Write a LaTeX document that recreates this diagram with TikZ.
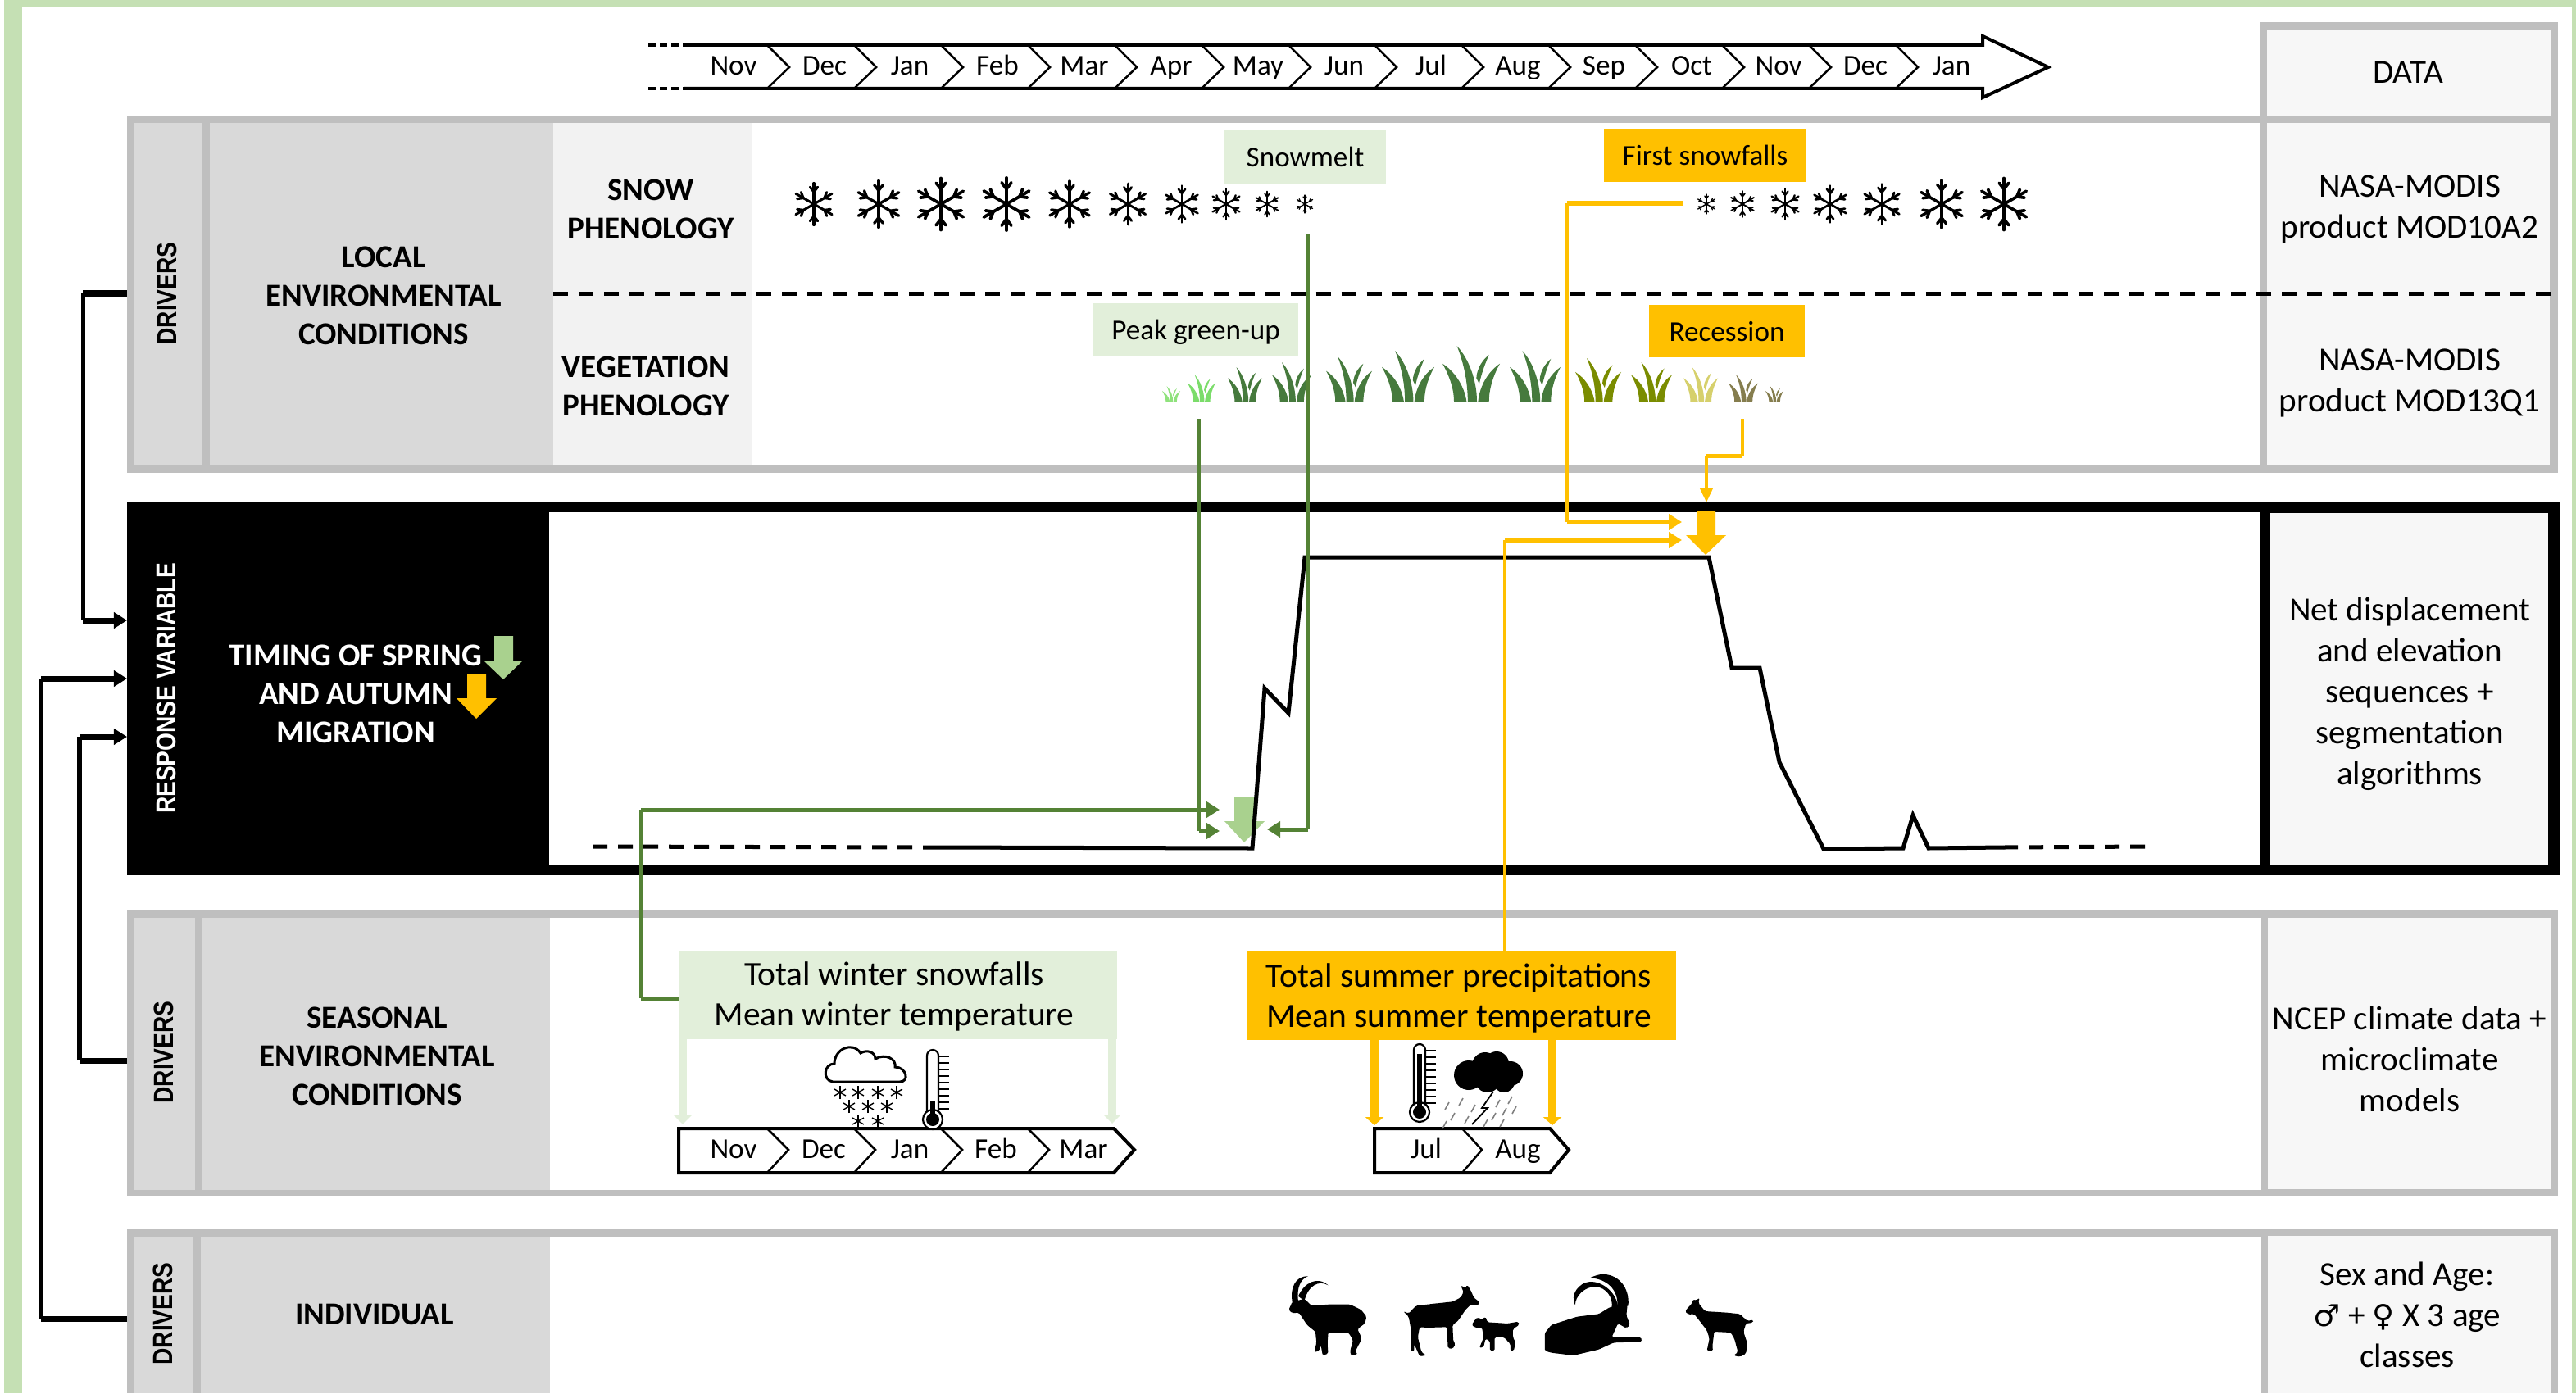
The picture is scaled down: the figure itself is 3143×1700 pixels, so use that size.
\documentclass[tikz,border=0pt]{standalone}
\usepackage{fontspec}
\usepackage{graphicx}
\setmainfont{Carlito}
\newfontfamily\hdrfont{Liberation Sans}
\newfontfamily\symfont{DejaVu Sans}
\usetikzlibrary{arrows.meta,fit,calc}
\definecolor{framegrey}{HTML}{BFBFBF}
\definecolor{colgrey}{HTML}{D9D9D9}
\definecolor{lightgrey}{HTML}{F2F2F2}
\definecolor{datagrey}{HTML}{F7F7F7}
\definecolor{outergreen}{HTML}{C5E0B4}
\definecolor{palegreen}{HTML}{E2EFDA}
\definecolor{midgreen}{HTML}{A9D18E}
\definecolor{darkgreen}{HTML}{548235}
\definecolor{amber}{HTML}{FFC000}
\definecolor{grassA}{HTML}{8FE27C}
\definecolor{grassB}{HTML}{7BDC6A}
\definecolor{grassC}{HTML}{467A3D}
\definecolor{grassD}{HTML}{7A8C00}
\definecolor{grassE}{HTML}{D6D06C}
\definecolor{grassF}{HTML}{857D4E}
\tikzset{
  cellbox/.style={inner sep=0pt,outer sep=0pt,draw=none},
  maintext/.style={font=\fontsize{11.7}{14.2}\selectfont,align=center,inner sep=0pt},
  headtext/.style={font=\fontsize{11.1}{13.3}\selectfont\bfseries,align=center,inner sep=0pt},
  bigtext/.style={font=\fontsize{11.8}{14}\selectfont,align=center,inner sep=0pt},
  labeltext/.style={font=\fontsize{10}{12}\selectfont,inner sep=0pt,text height=.68em,text depth=.2em,yshift=-.04cm},
  sidetext/.style={font=\hdrfont\bfseries\fontsize{8}{9}\selectfont,inner sep=0pt,rotate=90},
  monthtext/.style={font=\fontsize{10}{12}\selectfont,inner sep=0pt,text height=.68em,text depth=.2em},
  chev/.style={draw=black,line width=.025cm,line join=miter},
  chevbar/.style={draw=black,line width=.04cm,fill=white,line join=miter},
  blackv/.style={draw=black,line width=.05cm},
  blackh/.style={draw=black,line width=.07cm},
  blackarrow/.style={blackh,-{Triangle[length=.16cm,width=.19cm]}},
  greenv/.style={draw=darkgreen,line width=.035cm},
  greenh/.style={draw=darkgreen,line width=.05cm},
  greenarrow/.style={greenh,-{Triangle[length=.16cm,width=.19cm]}},
  amberv/.style={draw=amber,line width=.035cm},
  amberh/.style={draw=amber,line width=.05cm},
  amberarrow/.style={amberh,-{Triangle[length=.16cm,width=.19cm]}},
  fatwinter/.style={draw=palegreen,line width=.1cm,-{Triangle[length=.11cm,width=.21cm]}},
  fatsummer/.style={draw=amber,line width=.1cm,-{Triangle[length=.1cm,width=.22cm]}},
  curveline/.style={draw=black,line width=.05cm,line join=miter},
  dashline/.style={draw=black,line width=.05cm,dash pattern=on .18cm off .13cm},
  silhouette/.style={fill=black,rounded corners=.5pt},
}
\newcommand{\cellnode}[7]{\node[cellbox,fit={(#2,#3)(#4,#5)},#6] (#1) {#7};}
\newcommand{\flake}[3]{%
  \begin{scope}[shift={(#1,#2)},scale=#3/2,line cap=round]
    \pgfmathsetmacro{\flw}{#3*0.0006}
    \foreach \a in {90,30,-30,-90,-150,150}{
      \draw[line width=\flw cm] (0,0) -- (\a:1);
      \draw[line width=\flw cm] (\a:.58) -- ++({\a+38}:.3);
      \draw[line width=\flw cm] (\a:.58) -- ++({\a-38}:.3);
    }
  \end{scope}}
\newcommand{\tinystar}[2]{%
  \begin{scope}[shift={(#1,#2)}]
    \foreach \a in {90,30,-30}{\draw[line width=.014cm] (\a:8) -- ({\a+180}:8);}
  \end{scope}}
\newcommand{\tuft}[5]{%
  \begin{scope}[shift={(#1,#2)},xscale=#3,yscale=-#4]
    \fill[#5] (-.6,0) .. controls (-.6,.25) and (-.8,.5) .. (-1,.68) .. controls (-.6,.55) and (-.25,.3) .. (-.16,0) -- cycle;
    \fill[#5] (-.12,0) .. controls (-.12,.4) and (-.3,.75) .. (-.5,1) .. controls (-.05,.75) and (.2,.35) .. (.2,0) -- cycle;
    \fill[#5] (.24,0) .. controls (.3,.3) and (.62,.55) .. (1,.68) .. controls (.8,.5) and (.62,.25) .. (.62,0) -- cycle;
    \fill[#5] (.18,.42) .. controls (.2,.6) and (.4,.75) .. (.62,.84) .. controls (.46,.65) and (.36,.5) .. (.28,.32) -- cycle;
  \end{scope}}
\newcommand{\thermo}[4]{% cx, top, bulb y, mercury top
  \draw[line width=.022cm,fill=white,rounded corners=2pt] (#1-7,#3) -- (#1-7,#2) -- (#1+7,#2) -- (#1+7,#3);
  \draw[line width=.022cm,fill=white] (#1,#3) circle (12);
  \fill (#1,#3) circle (8);
  \fill (#1-3,#4) rectangle (#1+3,#3);
  \foreach \k in {0,...,8}{\draw[line width=.025cm] (#1+7,#2+8+\k*8) -- (#1+ \ifodd\k 14\else 20\fi,#2+8+\k*8);}
}
\begin{document}
\begin{tikzpicture}[x=.01cm,y=-.01cm]
\useasboundingbox (0,0) rectangle (3143,1700);
\fill[white] (0,0) rectangle (3143,1700);
% page frame
\fill[outergreen] (5,0) rectangle (27,1700);
\fill[outergreen] (5,0) rectangle (3143,9);
\fill[outergreen] (3138,0) rectangle (3143,1700);

% DATA header
\cellnode{dataTopFrame}{2757}{27}{3121}{149}{fill=framegrey}{}
\cellnode{dataTop}{2766}{36}{3112}{141}{fill=datagrey}{}
\node[maintext] (dataTxt) at (2938,88) {DATA};

% LOCAL panel
\cellnode{localFrame}{155}{141}{3121}{577}{fill=framegrey}{}
\cellnode{localDrv}{164}{150}{247}{568}{fill=colgrey}{}
\cellnode{localCol}{256}{150}{675}{568}{fill=colgrey}{}
\cellnode{localPheno}{675}{150}{918}{568}{fill=lightgrey}{}
\cellnode{localMain}{918}{150}{2757}{568}{fill=white}{}
\cellnode{localData}{2766}{150}{3111}{568}{fill=datagrey}{}
\node[sidetext] (drvA) at (204,358) {\scalebox{1}[1.2]{DRIVERS}};
\node[headtext] (localTxt) at (468,361) {LOCAL\\ENVIRONMENTAL\\CONDITIONS};
\node[headtext] (snowTxt) at (794,255) {SNOW\\PHENOLOGY};
\node[headtext] (vegTxt) at (788,471) {VEGETATION\\PHENOLOGY};
\node[maintext] (modisA) at (2940,255) {NASA-MODIS\\product MOD10A2};
\node[maintext] (modisB) at (2940,467) {NASA-MODIS\\product MOD13Q1};
\coordinate (dashL) at (675,358);
\coordinate (dashR) at (3112,358);
\draw[dashline] (dashL) -- (dashR);

% RESPONSE panel
\cellnode{respFrame}{155}{612}{3123}{1068}{fill=black}{}
\cellnode{respMain}{670}{625}{2757}{1055}{fill=white}{}
\cellnode{respData}{2770}{626}{3109}{1055}{fill=datagrey}{}
\node[sidetext,text=white] (respSide) at (203,840) {\scalebox{1}[1.2]{RESPONSE VARIABLE}};
\node[headtext,text=white] (respTxt) at (434,847) {TIMING OF SPRING\\AND AUTUMN\\MIGRATION};
\fill[midgreen] (603,776) -- (626,776) -- (626,806) -- (638,806) -- (614,829) -- (590,806) -- (603,806) -- cycle;
\fill[amber] (570,823) -- (593,823) -- (593,852) -- (606,852) -- (581,877) -- (557,852) -- (570,852) -- cycle;
\node[maintext] (netTxt) at (2940,847) {Net displacement\\and elevation\\sequences +\\segmentation\\algorithms};

% SEASONAL panel
\cellnode{seasFrame}{155}{1111}{3121}{1460}{fill=framegrey}{}
\cellnode{seasDrv}{164}{1120}{238}{1452}{fill=colgrey}{}
\cellnode{seasCol}{247}{1120}{671}{1452}{fill=colgrey}{}
\cellnode{seasMain}{671}{1120}{2759}{1452}{fill=white}{}
\cellnode{seasData}{2767}{1120}{3112}{1451}{fill=datagrey}{}
\node[sidetext] (drvB) at (200,1284) {\scalebox{1}[1.2]{DRIVERS}};
\node[headtext] (seasTxt) at (460,1289) {SEASONAL\\ENVIRONMENTAL\\CONDITIONS};
\node[maintext] (ncepTxt) at (2940,1292) {NCEP climate data +\\microclimate\\models};

% INDIVIDUAL panel
\cellnode{indFrame}{155}{1500}{3121}{1700}{fill=framegrey}{}
\cellnode{indDrv}{164}{1509}{236}{1700}{fill=colgrey}{}
\cellnode{indCol}{245}{1509}{671}{1700}{fill=colgrey}{}
\cellnode{indMain}{671}{1509}{2759}{1700}{fill=white}{}
\cellnode{indData}{2767}{1508}{3112}{1700}{fill=datagrey}{}
\node[sidetext] (drvC) at (199,1603) {\scalebox{1}[1.2]{DRIVERS}};
\node[headtext] (indTxt) at (457,1604) {INDIVIDUAL};
\node[maintext] (sexTxt) at (2937,1604) {Sex and Age:\\{\symfont\fontsize{10.5}{14.2}\selectfont ♂} + {\symfont\fontsize{10.5}{14.2}\selectfont ♀} X 3 age\\classes};

% top timeline
\draw[line width=.035cm,dash pattern=on .09cm off .05cm] (791,55) -- (835,55);
\draw[line width=.035cm,dash pattern=on .09cm off .05cm] (791,108) -- (835,108);
\draw[draw=black,line width=.04cm,line join=miter] (835,55) -- (2419,55) -- (2419,44) -- (2499,82) -- (2419,119) -- (2419,108) -- (835,108);
\foreach \b in {936,1042,1148,1254,1360,1466,1572,1677,1783,1889,1995,2101,2207,2313}{
  \draw[chev] (\b,55) -- (\b+27,82) -- (\b,108);
}
\foreach \n/\x in {Nov/895,Dec/1006,Jan/1110,Feb/1217,Mar/1323,Apr/1429,May/1535,Jun/1640,Jul/1746,Aug/1852,Sep/1957,Oct/2064,Nov/2170,Dec/2276,Jan/2381}{
  \node[monthtext] (top\x) at (\x,83) {\n};
}

% snow
\foreach \x/\h in {993/51,1072/57,1148/63,1228/64,1305/56,1376/50,1442/45,1496/38,1546/31,1592/22}{\flake{\x}{249}{\h}}
\foreach \x/\h in {2082/24,2126/32,2178/38,2233/45,2296/49,2369/58,2445/63}{\flake{\x}{249}{\h}}

% grass
\tuft{1429}{490}{11}{19}{grassA}
\tuft{1466}{490}{17}{33}{grassB}
\tuft{1519}{490}{21}{42}{grassC}
\tuft{1576}{490}{24}{48}{grassC}
\tuft{1646}{490}{28}{55}{grassC}
\tuft{1718}{490}{32}{62}{grassC}
\tuft{1795}{490}{35}{68}{grassC}
\tuft{1873}{490}{31}{62}{grassC}
\tuft{1950}{490}{28}{53}{grassD}
\tuft{2015}{490}{25}{48}{grassD}
\tuft{2075}{490}{21}{42}{grassE}
\tuft{2127}{490}{18}{33}{grassF}
\tuft{2165}{490}{11}{19}{grassF}

% labelled boxes
\node[cellbox,fit={(1494,159)(1691,224)},fill=palegreen] (snowmelt) {};
\node[labeltext] (snowmeltTxt) at (snowmelt.center) {Snowmelt};
\node[cellbox,fit={(1957,157)(2204,222)},fill=amber] (firstsnow) {};
\node[labeltext] (firstsnowTxt) at (firstsnow.center) {First snowfalls};
\node[cellbox,fit={(1334,370)(1584,435)},fill=palegreen] (peak) {};
\node[labeltext] (peakTxt) at (peak.center) {Peak green-up};
\node[cellbox,fit={(2012,372)(2202,436)},fill=amber] (recession) {};
\node[labeltext] (recessionTxt) at (recession.center) {Recession};
\node[cellbox,fit={(828,1160)(1363,1268)},fill=palegreen] (winterbox) {};
\node[bigtext] (winterTxt) at (1091,1216) {Total winter snowfalls\\Mean winter temperature};
\node[cellbox,fit={(1522,1161)(2045,1269)},fill=amber] (summerbox) {};
\node[bigtext] (summerTxt) at (1780,1218) {Total summer precipitations\\Mean summer temperature};

% winter months
\draw[chevbar] (828,1377) -- (1359,1377) -- (1384,1403) -- (1359,1431) -- (828,1431) -- cycle;
\foreach \b in {936,1042,1148,1254}{\draw[chev] (\b,1377) -- (\b+26,1403) -- (\b,1431);}
\foreach \n/\x in {Nov/895,Dec/1005,Jan/1110,Feb/1215,Mar/1322}{\node[monthtext] (win\x) at (\x,1405) {\n};}
% summer months
\draw[chevbar] (1677,1377) -- (1891,1377) -- (1914,1403) -- (1891,1431) -- (1677,1431) -- cycle;
\draw[chev] (1784,1377) -- (1808,1403) -- (1784,1431);
\foreach \n/\x in {Jul/1740,Aug/1852}{\node[monthtext] (sum\x) at (\x,1405) {\n};}

% fat arrows onto the month bars
\coordinate (wA) at (833,1372);
\coordinate (wB) at (1357,1371);
\coordinate (sA) at (1677,1373);
\coordinate (sB) at (1894,1373);
\draw[fatwinter] (winterbox.south west -| wA) -- (wA);
\draw[fatwinter] (winterbox.south west -| wB) -- (wB);
\draw[fatsummer] (summerbox.south west -| sA) -- (sA);
\draw[fatsummer] (summerbox.south west -| sB) -- (sB);

% weather icons
\draw[line width=.03cm,fill=white] (1016,1320) .. controls (1003,1318) and (1005,1298) .. (1018,1298) .. controls (1018,1280) and (1040,1270) .. (1050,1285) .. controls (1058,1280) and (1068,1284) .. (1068,1292) .. controls (1080,1285) and (1094,1292) .. (1092,1302) .. controls (1106,1302) and (1110,1320) .. (1098,1320) -- cycle;
\foreach \x/\y in {1025/1333,1047/1333,1071/1333,1094/1333,1036/1350,1059/1350,1082/1350,1047/1368,1071/1368}{\tinystar{\x}{\y}}
\thermo{1138}{1281}{1366}{1343}
\thermo{1732}{1274}{1357}{1286}
\fill (1792,1312) circle (18);
\fill (1812,1300) circle (16);
\fill (1826,1298) circle (15);
\fill (1843,1310) circle (15);
\fill (1815,1318) circle (15);
\fill (1835,1320) circle (13);
\foreach \x/\y in {1768/1345,1785/1340,1800/1348,1775/1358,1792/1362,1765/1368,1830/1342,1845/1338,1838/1352,1850/1350,1825/1358,1815/1366,1835/1366}{
  \draw[gray,line width=.016cm] (\x,\y) -- ++(-5,9);
}
\draw[black,line width=.018cm] (1822,1332) -- (1808,1352) -- (1815,1352) -- (1796,1372);

% ibex silhouettes, zoomed frame
\begin{scope}[shift={(1500,1500)},xscale=.4464,yscale=.3333]
\fill (172,268) .. controls (165,215) and (180,170) .. (215,172) .. controls (195,180) and (183,215) .. (188,262) -- cycle;
\fill (188,245) .. controls (205,195) and (240,170) .. (270,205) .. controls (245,185) and (215,205) .. (205,262) -- cycle;
\path[silhouette] (162,295) -- (172,265) -- (205,255) -- (225,280) -- (270,275) -- (330,275) -- (360,295) -- (375,320) -- (370,345) -- (350,365) -- (362,400) -- (345,445) -- (350,460) -- (332,462) -- (330,445) -- (338,405) -- (325,378) -- (270,378) -- (268,420) -- (270,455) -- (255,462) -- (250,425) -- (245,445) -- (232,450) -- (238,415) -- (235,375) -- (212,350) -- (190,305) -- (172,307) -- cycle;
\path[silhouette] (475,300) -- (490,308) -- (510,280) -- (560,272) -- (610,265) -- (632,250) -- (640,230) -- (632,205) -- (645,215) -- (650,203) -- (660,225) -- (668,250) -- (685,268) -- (680,278) -- (660,275) -- (645,295) -- (625,335) -- (610,350) -- (612,410) -- (618,420) -- (610,438) -- (597,435) -- (595,358) -- (540,360) -- (520,358) -- (515,395) -- (525,450) -- (538,462) -- (520,465) -- (505,420) -- (505,447) -- (495,445) -- (498,380) -- (490,320) -- cycle;
\path[silhouette] (662,350) -- (672,330) -- (678,322) -- (690,330) -- (700,320) -- (705,340) -- (760,345) -- (790,338) -- (792,350) -- (775,365) -- (775,395) -- (782,415) -- (777,445) -- (768,445) -- (768,420) -- (750,395) -- (725,395) -- (725,445) -- (712,445) -- (712,410) -- (700,400) -- (695,430) -- (683,435) -- (695,395) -- (690,360) -- (672,360) -- cycle;
\fill (1090,280) .. controls (1095,210) and (1060,160) .. (1015,165) .. controls (1005,167) and (995,172) .. (985,178) .. controls (1030,180) and (1065,220) .. (1060,285) -- cycle;
\fill (1062,285) .. controls (1060,240) and (1025,190) .. (985,192) .. controls (955,195) and (930,240) .. (945,278) .. controls (945,245) and (970,210) .. (1000,210) .. controls (1030,212) and (1050,250) .. (1045,290) -- cycle;
\path[silhouette] (862,380) -- (880,350) -- (950,320) -- (1010,310) -- (1040,285) -- (1088,275) -- (1085,315) -- (1095,350) -- (1085,362) -- (1062,345) -- (1045,395) -- (1125,395) -- (1127,412) -- (1050,415) -- (1010,440) -- (940,462) -- (880,452) -- (862,445) -- cycle;
\path[silhouette] (1245,300) -- (1265,270) -- (1268,255) -- (1275,262) -- (1285,250) -- (1282,270) -- (1300,300) -- (1360,305) -- (1395,310) -- (1415,335) -- (1433,332) -- (1430,342) -- (1412,345) -- (1405,375) -- (1415,415) -- (1412,455) -- (1395,467) -- (1378,462) -- (1390,450) -- (1380,400) -- (1370,378) -- (1325,375) -- (1320,430) -- (1322,445) -- (1305,445) -- (1312,400) -- (1305,370) -- (1285,335) -- (1270,310) -- (1255,312) -- cycle;
\end{scope}

% migration signal
\fill[midgreen] (1506,973) -- (1531,973) -- (1531,1002) -- (1543,1002) -- (1518,1028) -- (1494,1002) -- (1506,1002) -- cycle;
\fill[amber] (2070,623) -- (2093,623) -- (2093,653) -- (2106,653) -- (2081,677) -- (2057,653) -- (2070,653) -- cycle;
\coordinate (curveL) at (723,1033);
\coordinate (curveA) at (1126,1034);
\coordinate (curveB) at (2444,1034);
\coordinate (curveR) at (2622,1033);
\draw[dashline] (curveL) -- (curveA);
\draw[dashline] (curveB) -- (curveR);
\draw[curveline] (curveA) -- (1528,1035) -- (1543,840) -- (1572,870) -- (1592,680) -- (2085,680) -- (2113,815) -- (2147,815) -- (2171,930) -- (2225,1036) -- (2322,1035) -- (2334,995) -- (2353,1035) -- (curveB);

% spring connectors
\coordinate (peakS) at (1463,511);
\coordinate (peakC) at (1463,1014);
\coordinate (springA) at (1488,1014);
\coordinate (meltS) at (1596,285);
\coordinate (meltC) at (1596,1012);
\coordinate (springB) at (1546,1012);
\coordinate (winC) at (782,1218);
\coordinate (winD) at (782,988);
\coordinate (springC) at (1488,988);
\draw[greenv] (peakS) -- (peakC);
\draw[greenarrow] (peakC) -- (springA);
\draw[greenv] (meltS) -- (meltC);
\draw[greenarrow] (meltC) -- (springB);
\draw[greenh] (winterbox.west |- winC) -- (winC);
\draw[greenv] (winC) -- (winD);
\draw[greenarrow] (winD) -- (springC);

% autumn connectors
\coordinate (firstS) at (2054,248);
\coordinate (firstC) at (1912,248);
\coordinate (firstD) at (1912,637);
\coordinate (autA) at (2052,637);
\coordinate (sumD) at (1836,659);
\coordinate (autB) at (2052,659);
\coordinate (recS) at (2126,511);
\coordinate (recC) at (2126,556);
\coordinate (recD) at (2082,556);
\coordinate (autC) at (2082,613);
\draw[amberh] (firstS) -- (firstC);
\draw[amberv] (firstC) -- (firstD);
\draw[amberarrow] (firstD) -- (autA);
\draw[amberv] (summerbox.north -| sumD) -- (sumD);
\draw[amberarrow] (sumD) -- (autB);
\draw[amberv] (recS) -- (recC);
\draw[amberh] (recC) -- (recD);
\draw[amberv,-{Triangle[length=.17cm,width=.15cm]}] (recD) -- (autC);

% driver connectors
\coordinate (bA) at (101,358);
\coordinate (bB) at (101,757);
\coordinate (bC) at (50,1609);
\coordinate (bD) at (50,828);
\coordinate (bE) at (97,1294);
\coordinate (bF) at (97,899);
\draw[blackh] (localFrame.west |- bA) -- (bA);
\draw[blackv] (bA) -- (bB);
\draw[blackarrow] (bB) -- (respFrame.west |- bB);
\draw[blackh] (indFrame.west |- bC) -- (bC);
\draw[blackv] (bC) -- (bD);
\draw[blackarrow] (bD) -- (respFrame.west |- bD);
\draw[blackh] (seasFrame.west |- bE) -- (bE);
\draw[blackv] (bE) -- (bF);
\draw[blackarrow] (bF) -- (respFrame.west |- bF);
\end{tikzpicture}
\end{document}
